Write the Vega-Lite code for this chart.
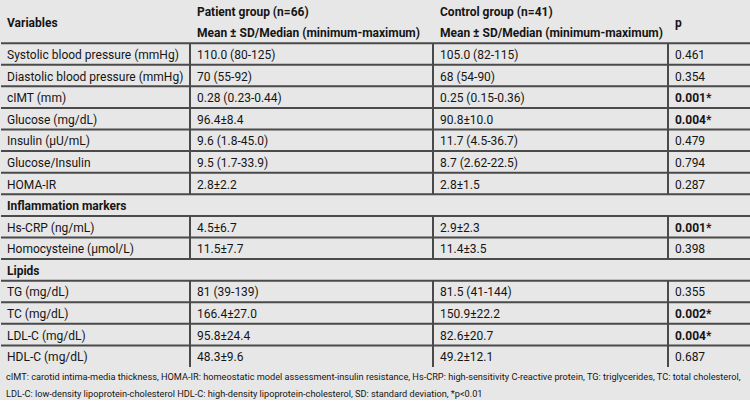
{
  "$schema": "https://vega.github.io/schema/vega-lite/v6.json",
  "width": 750,
  "height": 367,
  "padding": 0,
  "autosize": {"type": "pad"},
  "background": "#e7e7e7",
  "config": {
    "view": {"stroke": null},
    "font": "Roboto",
    "text": {"font": "Roboto", "fontSize": 12, "align": "left", "baseline": "middle", "color": "#151515", "dy": 1},
    "rule": {"stroke": "#4a4a4a", "strokeWidth": 2},
    "axis": {"disable": true}
  },
  "title": {
    "text": [
      "cIMT: carotid intima-media thickness, HOMA-IR: homeostatic model assessment-insulin resistance, Hs-CRP: high-sensitivity C-reactive protein, TG: triglycerides, TC: total cholesterol,",
      "LDL-C: low-density lipoprotein-cholesterol HDL-C: high-density lipoprotein-cholesterol, SD: standard deviation, *p<0.01"
    ],
    "orient": "bottom",
    "anchor": "start",
    "font": "Roboto",
    "fontSize": 9.2,
    "fontWeight": "normal",
    "lineHeight": 17,
    "color": "#151515",
    "offset": 5,
    "dx": 6
  },
  "datasets": {
    "rows": [
      {"row": 0, "variable": "Systolic blood pressure (mmHg)", "patient": "110.0 (80-125)", "control": "105.0 (82-115)", "p": "0.461", "sig": false, "section": false},
      {"row": 1, "variable": "Diastolic blood pressure (mmHg)", "patient": "70 (55-92)", "control": "68 (54-90)", "p": "0.354", "sig": false, "section": false},
      {"row": 2, "variable": "cIMT (mm)", "patient": "0.28 (0.23-0.44)", "control": "0.25 (0.15-0.36)", "p": "0.001*", "sig": true, "section": false},
      {"row": 3, "variable": "Glucose (mg/dL)", "patient": "96.4±8.4", "control": "90.8±10.0", "p": "0.004*", "sig": true, "section": false},
      {"row": 4, "variable": "\u00a0Insulin (µU/mL)", "patient": "9.6 (1.8-45.0)", "control": "11.7 (4.5-36.7)", "p": "0.479", "sig": false, "section": false},
      {"row": 5, "variable": "Glucose/Insulin", "patient": "9.5 (1.7-33.9)", "control": "8.7 (2.62-22.5)", "p": "0.794", "sig": false, "section": false},
      {"row": 6, "variable": "HOMA-IR", "patient": "2.8±2.2", "control": "2.8±1.5", "p": "0.287", "sig": false, "section": false},
      {"row": 7, "variable": "Inflammation markers", "patient": "", "control": "", "p": "", "sig": false, "section": true},
      {"row": 8, "variable": "Hs-CRP (ng/mL)", "patient": "4.5±6.7", "control": "2.9±2.3", "p": "0.001*", "sig": true, "section": false},
      {"row": 9, "variable": "Homocysteine (µmol/L)", "patient": "11.5±7.7", "control": "11.4±3.5", "p": "0.398", "sig": false, "section": false},
      {"row": 10, "variable": "Lipids", "patient": "", "control": "", "p": "", "sig": false, "section": true},
      {"row": 11, "variable": "TG (mg/dL)", "patient": "81 (39-139)", "control": "81.5 (41-144)", "p": "0.355", "sig": false, "section": false},
      {"row": 12, "variable": "TC (mg/dL)", "patient": "166.4±27.0", "control": "150.9±22.2", "p": "0.002*", "sig": true, "section": false},
      {"row": 13, "variable": "LDL-C (mg/dL)", "patient": "95.8±24.4", "control": "82.6±20.7", "p": "0.004*", "sig": true, "section": false},
      {"row": 14, "variable": "HDL-C (mg/dL)", "patient": "48.3±9.6", "control": "49.2±12.1", "p": "0.687", "sig": false, "section": false}
    ]
  },
  "data": {"name": "rows"},
  "encoding": {
    "y": {"field": "row", "type": "quantitative", "scale": {"domain": [-2.5, 14.5], "reverse": true, "nice": false, "zero": false}, "axis": null}
  },
  "layer": [
    {
      "transform": [{"calculate": "datum.row - 0.5", "as": "top"}],
      "mark": "rule",
      "encoding": {
        "y": {"field": "top", "type": "quantitative"},
        "x": {"datum": 0, "type": "quantitative", "scale": {"domain": [0, 100], "nice": false, "zero": false}, "axis": null},
        "x2": {"datum": 100}
      }
    },
    {
      "data": {"values": [{}]},
      "mark": "rule",
      "encoding": {"y": {"datum": -2.5, "type": "quantitative"}, "x": {"datum": 0, "type": "quantitative"}, "x2": {"datum": 100}}
    },
    {
      "data": {"values": [{}]},
      "mark": "rule",
      "encoding": {"y": {"datum": 14.5, "type": "quantitative"}, "x": {"datum": 0, "type": "quantitative"}, "x2": {"datum": 100}}
    },
    {
      "data": {"values": [{}]},
      "mark": "rule",
      "encoding": {"y": {"datum": -1.5, "type": "quantitative"}, "x": {"datum": 25.2, "type": "quantitative"}, "x2": {"datum": 88.93}}
    },
    {
      "data": {"values": [{}]},
      "mark": "rule",
      "encoding": {"y": {"datum": -2.5, "type": "quantitative"}, "y2": {"datum": -0.5}, "x": {"datum": 25.2, "type": "quantitative"}}
    },
    {
      "data": {"values": [{}]},
      "mark": "rule",
      "encoding": {"y": {"datum": -2.5, "type": "quantitative"}, "y2": {"datum": -0.5}, "x": {"datum": 57.6, "type": "quantitative"}}
    },
    {
      "data": {"values": [{}]},
      "mark": "rule",
      "encoding": {"y": {"datum": -2.5, "type": "quantitative"}, "y2": {"datum": -0.5}, "x": {"datum": 88.93, "type": "quantitative"}}
    },
    {
      "transform": [{"filter": "!datum.section"}, {"calculate": "datum.row - 0.5", "as": "top"}, {"calculate": "datum.row + 0.5", "as": "bottom"}],
      "mark": "rule",
      "encoding": {"y": {"field": "top", "type": "quantitative"}, "y2": {"field": "bottom"}, "x": {"datum": 25.2, "type": "quantitative"}}
    },
    {
      "transform": [{"filter": "!datum.section"}, {"calculate": "datum.row - 0.5", "as": "top"}, {"calculate": "datum.row + 0.5", "as": "bottom"}],
      "mark": "rule",
      "encoding": {"y": {"field": "top", "type": "quantitative"}, "y2": {"field": "bottom"}, "x": {"datum": 57.6, "type": "quantitative"}}
    },
    {
      "transform": [{"filter": "!datum.section"}, {"calculate": "datum.row - 0.5", "as": "top"}, {"calculate": "datum.row + 0.5", "as": "bottom"}],
      "mark": "rule",
      "encoding": {"y": {"field": "top", "type": "quantitative"}, "y2": {"field": "bottom"}, "x": {"datum": 88.93, "type": "quantitative"}}
    },
    {
      "data": {"values": [{"row": -1.5, "label": "Variables"}]},
      "mark": {"type": "text", "fontWeight": "bold", "dx": 6},
      "encoding": {"x": {"datum": 0, "type": "quantitative"}, "text": {"field": "label"}}
    },
    {
      "data": {"values": [{"row": -2, "label": "Patient group (n=66)"}, {"row": -1, "label": "Mean ± SD/Median (minimum-maximum)"}]},
      "mark": {"type": "text", "fontWeight": "bold", "dx": 7},
      "encoding": {"x": {"datum": 25.2, "type": "quantitative"}, "text": {"field": "label"}}
    },
    {
      "data": {"values": [{"row": -2, "label": "Control group (n=41)"}, {"row": -1, "label": "Mean ± SD/Median (minimum-maximum)"}]},
      "mark": {"type": "text", "fontWeight": "bold", "dx": 7},
      "encoding": {"x": {"datum": 57.6, "type": "quantitative"}, "text": {"field": "label"}}
    },
    {
      "data": {"values": [{"row": -1.5, "label": "p"}]},
      "mark": {"type": "text", "fontWeight": "bold", "dx": 7},
      "encoding": {"x": {"datum": 88.93, "type": "quantitative"}, "text": {"field": "label"}}
    },
    {
      "transform": [{"filter": "!datum.section"}],
      "mark": {"type": "text", "dx": 6},
      "encoding": {"x": {"datum": 0, "type": "quantitative"}, "text": {"field": "variable"}}
    },
    {
      "transform": [{"filter": "datum.section"}],
      "mark": {"type": "text", "dx": 6, "fontWeight": "bold"},
      "encoding": {"x": {"datum": 0, "type": "quantitative"}, "text": {"field": "variable"}}
    },
    {
      "transform": [{"filter": "!datum.section"}],
      "mark": {"type": "text", "dx": 7},
      "encoding": {"x": {"datum": 25.2, "type": "quantitative"}, "text": {"field": "patient"}}
    },
    {
      "transform": [{"filter": "!datum.section"}],
      "mark": {"type": "text", "dx": 7},
      "encoding": {"x": {"datum": 57.6, "type": "quantitative"}, "text": {"field": "control"}}
    },
    {
      "transform": [{"filter": "!datum.section && !datum.sig"}],
      "mark": {"type": "text", "dx": 7},
      "encoding": {"x": {"datum": 88.93, "type": "quantitative"}, "text": {"field": "p"}}
    },
    {
      "transform": [{"filter": "datum.sig"}],
      "mark": {"type": "text", "dx": 7, "fontWeight": "bold"},
      "encoding": {"x": {"datum": 88.93, "type": "quantitative"}, "text": {"field": "p"}}
    }
  ]
}
